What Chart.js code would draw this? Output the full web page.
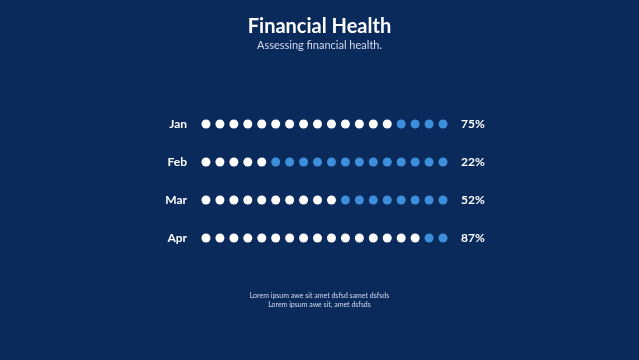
<!DOCTYPE html>
<html>
<head>
<meta charset="utf-8">
<script src="https://cdn.jsdelivr.net/npm/chart.js@4/dist/chart.umd.min.js"></script>
<style>
  html, body { margin: 0; padding: 0; background: #0b2a5c; }
  #wrap { position: relative; width: 639px; height: 360px; overflow: hidden; font-family: Lato, "Open Sans", sans-serif; }
  #chart { position: absolute; left: 0; top: 0; }
  .title { position: absolute; top: 13px; width: 100%; text-align: center; color: #fff; font-weight: 700; font-size: 20px; }
  .subtitle { position: absolute; top: 38px; width: 100%; text-align: center; color: #d3dcec; font-size: 11px; }
  .footer { position: absolute; top: 291px; width: 100%; text-align: center; color: #d3dcec; font-size: 7px; line-height: 9px; }
</style>
</head>
<body>
<div id="wrap">
  <canvas id="chart" width="639" height="360"></canvas>
  <div class="title">Financial Health</div>
  <div class="subtitle">Assessing financial health.</div>
  <div class="footer">Lorem ipsum awe sit amet dsfsd samet dsfsds<br>Lorem ipsum awe sit, amet dsfsds</div>
</div>
<script>
// Data
const months = ['Jan', 'Feb', 'Mar', 'Apr'];
const percentLabels = ['75%', '22%', '52%', '87%'];
const filledDots = [14, 5, 10, 16];
const totalDots = 18;

// Build dot points from the counts
const filledPoints = [];
const emptyPoints = [];
months.forEach((m, i) => {
    for (let d = 0; d < totalDots; d++) {
        (d < filledDots[i] ? filledPoints : emptyPoints).push({ x: d, y: m });
    }
});

const ctx = document.getElementById('chart').getContext('2d');
new Chart(ctx, {
    type: 'scatter',
    data: {
        datasets: [
            { data: filledPoints, backgroundColor: '#ffffff', borderWidth: 0, pointRadius: 4.5, yAxisID: 'y' },
            { data: emptyPoints, backgroundColor: '#3d8edb', borderWidth: 0, pointRadius: 4.5, yAxisID: 'y' }
        ]
    },
    options: {
        responsive: false,
        animation: false,
        layout: { padding: { top: 105, bottom: 103, left: 0, right: 0 } },
        scales: {
            x: {
                type: 'linear',
                min: -0.5,
                max: totalDots - 0.5,
                display: false
            },
            y: {
                type: 'category',
                labels: months,
                offset: true,
                position: 'left',
                grid: { display: false },
                border: { display: false },
                ticks: { color: '#ffffff', padding: 4, font: { family: 'Lato', size: 12, weight: 'bold' } },
                afterFit: (scale) => { scale.width = 199; }
            },
            y1: {
                type: 'category',
                labels: percentLabels,
                offset: true,
                position: 'right',
                grid: { display: false },
                border: { display: false },
                ticks: { color: '#ffffff', padding: 3, font: { family: 'Lato', size: 12, weight: 'bold' } },
                afterFit: (scale) => { scale.width = 189; }
            }
        },
        plugins: {
            legend: { display: false },
            tooltip: { enabled: false }
        }
    }
});
</script>
</body>
</html>
